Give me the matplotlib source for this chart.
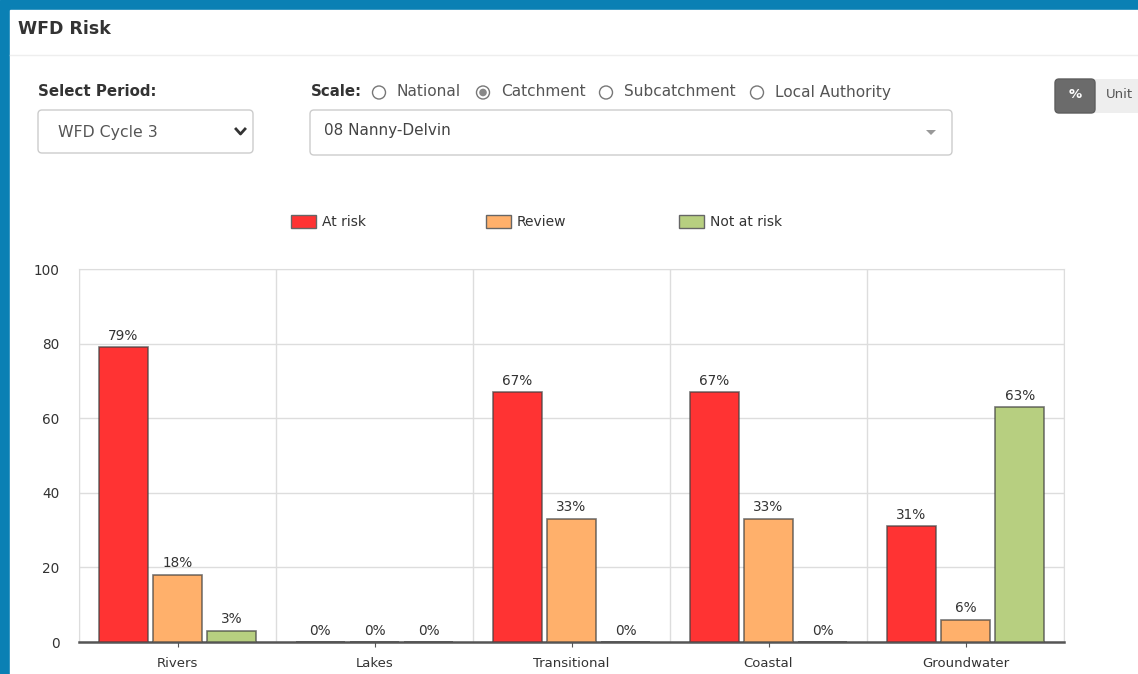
import numpy as np
import matplotlib
matplotlib.use('Agg')
import matplotlib.pyplot as plt
from matplotlib.patches import FancyBboxPatch, Rectangle, Circle, Polygon

# chart data (percent of water bodies)
categories = ['Rivers', 'Lakes', 'Transitional', 'Coastal', 'Groundwater']
at_risk = [79, 0, 67, 67, 31]
review = [18, 0, 33, 33, 6]
not_at_risk = [3, 0, 0, 0, 63]
series_names = ['At risk', 'Review', 'Not at risk']
series_colors = ['#ff3333', '#ffb06b', '#b7cf80']
y_ticks = [0, 20, 40, 60, 80, 100]

W, H = 1138, 674
fig = plt.figure(figsize=(W / 100, H / 100), dpi=100)

# background axes in pixel coordinates for the page furniture
bg = fig.add_axes([0, 0, 1, 1])
bg.set_xlim(0, W)
bg.set_ylim(H, 0)
bg.axis('off')
bg.add_patch(Rectangle((0, 0), W, H, color='#0a80b4', zorder=0))
bg.add_patch(Rectangle((10, 10), W, H, color='white', zorder=1))
bg.plot([10, W], [55, 55], color='#eeeeee', lw=1, zorder=2)
bg.text(18, 29, 'WFD Risk', fontsize=12.5, fontweight='bold', color='#333333', va='center', zorder=3)

# period selector
bg.text(38, 91, 'Select Period:', fontsize=10.8, fontweight='bold', color='#333333', va='center', zorder=3)
bg.add_patch(FancyBboxPatch((38, 110), 215, 43, boxstyle='round,pad=0,rounding_size=4',
                            fc='white', ec='#cccccc', lw=1, zorder=2))
bg.text(58, 132, 'WFD Cycle 3', fontsize=11.3, color='#555555', va='center', zorder=3)
bg.plot([236, 240.5, 245], [129, 134, 129], color='#333333', lw=2, zorder=3)

# scale radio buttons
bg.text(311, 92, 'Scale:', fontsize=10.8, fontweight='bold', color='#333333', va='center', zorder=3)
radios = [(379, 'National', False), (483, 'Catchment', True),
          (606, 'Subcatchment', False), (757, 'Local Authority', False)]
for rx, label, checked in radios:
    bg.add_patch(Circle((rx, 92.5), 6.5, fc='white', ec='#777777', lw=1, zorder=3))
    if checked:
        bg.add_patch(Circle((rx, 92.5), 3.8, fc='#888888', ec='none', zorder=4))
    bg.text(rx + 18, 92, label, fontsize=11.1, color='#555555', va='center', zorder=3)

bg.add_patch(FancyBboxPatch((310, 110), 642, 45, boxstyle='round,pad=0,rounding_size=4',
                            fc='white', ec='#cccccc', lw=1, zorder=2))
bg.text(324, 131, '08 Nanny-Delvin', fontsize=11, color='#444444', va='center', zorder=3)
bg.add_patch(Polygon([[926, 130], [936, 130], [931, 135]], closed=True, fc='#999999', ec='none', zorder=3))

# % / Unit toggle
bg.add_patch(FancyBboxPatch((1055, 79), 40, 34, boxstyle='round,pad=0,rounding_size=4',
                            fc='#6b6b6b', ec='#5e5e5e', lw=1, zorder=3))
bg.add_patch(Rectangle((1094, 79), 50, 34, fc='#eeeeee', ec='none', zorder=2))
bg.text(1075, 95, '%', fontsize=9.5, fontweight='bold', color='white', ha='center', va='center', zorder=4)
bg.text(1106, 95, 'Unit', fontsize=9.5, color='#555555', va='center', zorder=4)

# legend drawn as page elements
leg_x = [291, 486, 679]
for lx, name, col in zip(leg_x, series_names, series_colors):
    bg.add_patch(Rectangle((lx, 214.5), 25, 13, fc=col, ec='#666666', lw=1, zorder=3))
    bg.text(lx + 31, 221.5, name, fontsize=10, color='#333333', va='center', zorder=3)

# main chart
left, right, top, bottom = 79, 1064, 269, 642
ax = fig.add_axes([left / W, 1 - bottom / H, (right - left) / W, (bottom - top) / H])
ax.set_zorder(5)
x = np.arange(len(categories))
width = 0.248
step = 0.275
for i, (vals, col) in enumerate(zip([at_risk, review, not_at_risk], series_colors)):
    pos = x + (i - 1) * step
    bars = ax.bar(pos, vals, width, color=col, edgecolor=(0.25, 0.25, 0.25, 0.7), lw=1.2, zorder=3)
    for b, v in zip(bars, vals):
        ax.text(b.get_x() + b.get_width() / 2, v + 1.2, f'{v}%', ha='center', va='bottom',
                fontsize=9.8, color='#333333', zorder=4)

ax.set_xlim(-0.5, len(categories) - 0.5)
ax.set_ylim(0, 100)
ax.set_yticks(y_ticks)
ax.set_xticks(x)
ax.set_xticklabels(categories)
ax.set_xticks(np.arange(len(categories) + 1) - 0.5, minor=True)
ax.grid(True, axis='y', color='#dddddd', lw=1, zorder=0)
ax.grid(True, axis='x', which='minor', color='#dddddd', lw=1, zorder=0)
ax.tick_params(axis='x', which='minor', length=0)
ax.tick_params(axis='x', which='major', length=3.5, color='#555555', labelsize=9.5, labelcolor='#333333', pad=7)
ax.tick_params(axis='y', length=0, labelsize=9.8, labelcolor='#333333', pad=14)
for s in ['left', 'top', 'right']:
    ax.spines[s].set_color('#dddddd')
ax.spines['bottom'].set_color('#555555')
ax.spines['bottom'].set_linewidth(1.8)
ax.set_facecolor('none')

fig.savefig('out.png', dpi=100)
